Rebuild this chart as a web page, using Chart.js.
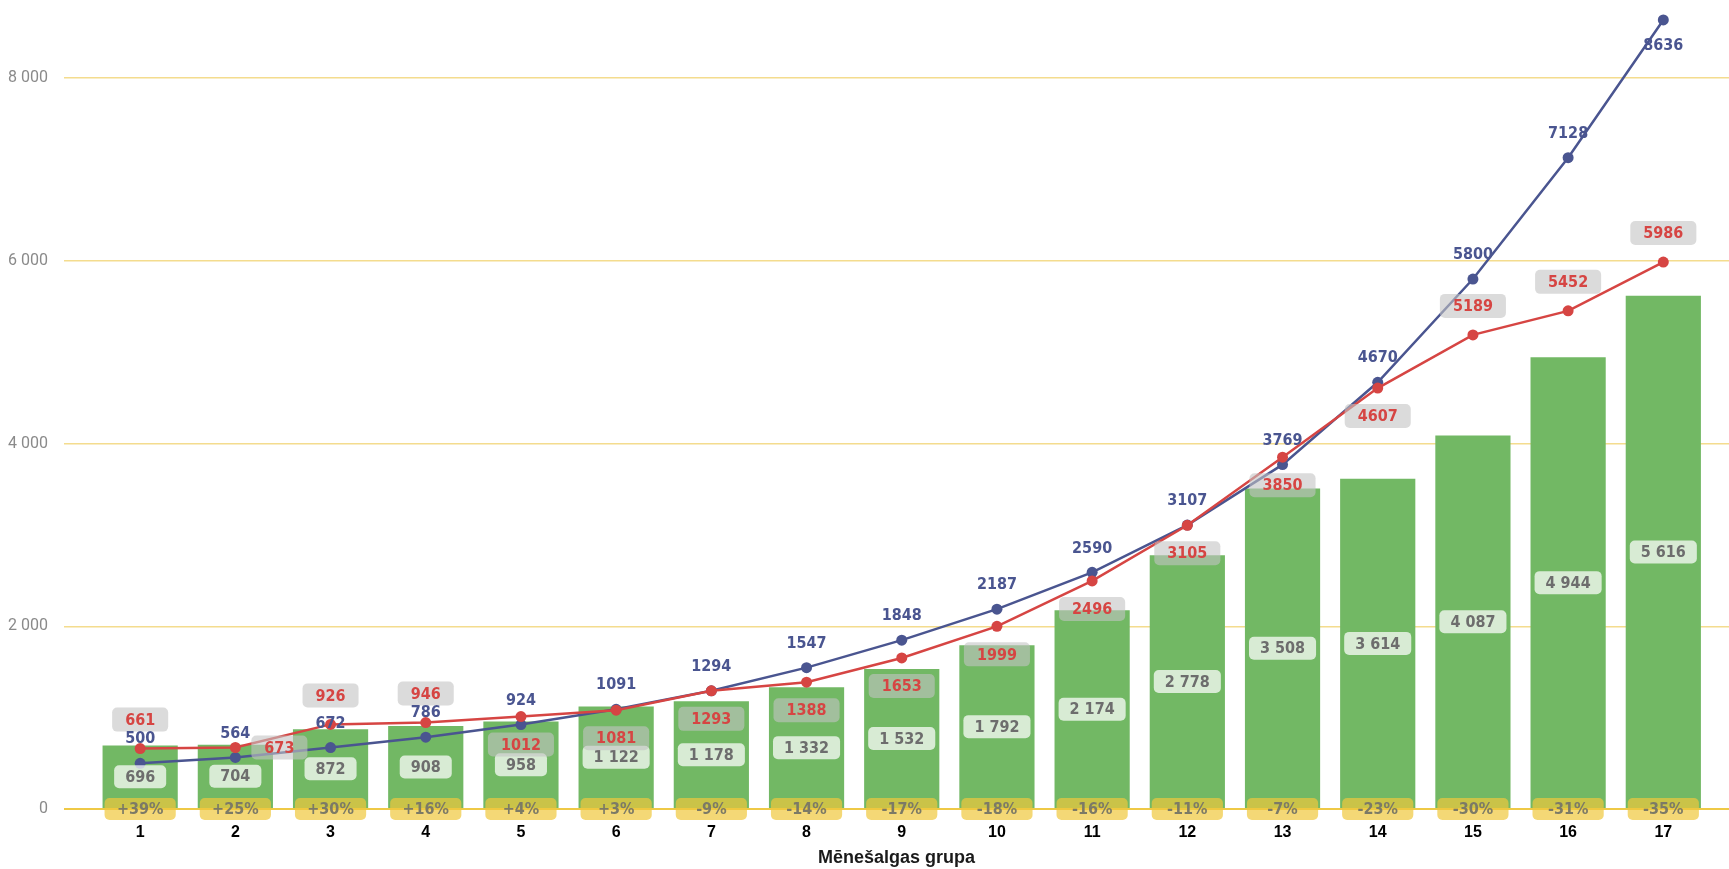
<!DOCTYPE html>
<html>
<head>
<meta charset="utf-8">
<script src="https://cdn.jsdelivr.net/npm/chart.js@4.4.0/dist/chart.umd.min.js"></script>
<style>
  html, body { margin: 0; padding: 0; background: #fff; }
</style>
</head>
<body>
<canvas id="myChart" width="1729" height="869"></canvas>
<script>
'use strict';

// Data
const groups = ['1', '2', '3', '4', '5', '6', '7', '8', '9', '10', '11', '12', '13', '14', '15', '16', '17'];
const barValues = [696, 704, 872, 908, 958, 1122, 1178, 1332, 1532, 1792, 2174, 2778, 3508, 3614, 4087, 4944, 5616];
const blueValues = [500, 564, 672, 786, 924, 1091, 1294, 1547, 1848, 2187, 2590, 3107, 3769, 4670, 5800, 7128, 8636];
const redValues = [661, 673, 926, 946, 1012, 1081, 1293, 1388, 1653, 1999, 2496, 3105, 3850, 4607, 5189, 5452, 5986];
const diffLabels = ['+39%', '+25%', '+30%', '+16%', '+4%', '+3%', '-9%', '-14%', '-17%', '-18%', '-16%', '-11%', '-7%', '-23%', '-30%', '-31%', '-35%'];
const yTicks = [0, 2000, 4000, 6000, 8000];

// where each line label sits relative to its point
const redLabelSide = ['above', 'right', 'above', 'above', 'below', 'below', 'below', 'below', 'below',
  'below', 'below', 'below', 'below', 'below', 'above', 'above', 'above'];
const blueLabelSide = ['above', 'above', 'above', 'above', 'above', 'above', 'above', 'above', 'above',
  'above', 'above', 'above', 'above', 'above', 'above', 'above', 'below'];

// Colours
const green = '#72b864';
const blue = '#4a5590';
const red = '#d64543';
const labelFont = '"DejaVu Sans Condensed", "Liberation Sans Narrow", Roboto, sans-serif';

// Helper Functions
function fmt(v){
  return String(v).replace(/\B(?=(\d{3})+(?!\d))/g, ' ');
}

function roundBox(c, cx, cy, w, h, r, fill){
  c.beginPath();
  c.roundRect(cx - w / 2, cy - h / 2, w, h, r);
  c.fillStyle = fill;
  c.fill();
}

function toPoints(values){
  return values.map((v, i) => ({x: i + 1, y: v}));
}

// draws all the data labels on top of the chart
const labelPlugin = {
  id: 'labelPlugin',
  afterDatasetsDraw(chart){
    const c = chart.ctx;
    const y0 = chart.scales.y.getPixelForValue(0);
    c.save();
    c.font = 'bold 16px ' + labelFont;
    c.textAlign = 'center';
    c.textBaseline = 'middle';

    // bar values + difference boxes
    chart.getDatasetMeta(0).data.forEach((bar, i) => {
      const cy = (bar.y + bar.base) / 2;
      const txt = fmt(barValues[i]);
      const w = c.measureText(txt).width + 22;
      roundBox(c, bar.x, cy, w, 23, 5, 'rgba(255,255,255,0.72)');
      c.fillStyle = '#6d6d6d';
      c.fillText(txt, bar.x, cy + 1);

      roundBox(c, bar.x, y0, bar.width - 4, 22, 5, 'rgba(240,200,60,0.7)');
      c.fillStyle = '#7c7a66';
      c.fillText(diffLabels[i], bar.x, y0 + 1);
    });

    // red line labels
    chart.getDatasetMeta(2).data.forEach((pt, i) => {
      const txt = String(redValues[i]);
      const w = c.measureText(txt).width + 26;
      let cx = pt.x;
      let cy = pt.y;
      if(redLabelSide[i] === 'above'){
        cy = pt.y - 29;
      } else if(redLabelSide[i] === 'below'){
        cy = pt.y + 28;
      } else {
        cx = pt.x + 16 + w / 2;
      }
      roundBox(c, cx, cy, w, 24, 5, 'rgba(195,195,195,0.6)');
      c.fillStyle = red;
      c.fillText(txt, cx, cy + 1);
    });

    // blue line labels
    chart.getDatasetMeta(1).data.forEach((pt, i) => {
      const cy = blueLabelSide[i] === 'above' ? pt.y - 24 : pt.y + 26;
      c.fillStyle = blue;
      c.fillText(String(blueValues[i]), pt.x, cy);
    });
    c.restore();
  }
};

const ctx = document.getElementById('myChart');

let chartObj = {
  type: 'bar',
  data: {
    datasets: [{
      type: 'bar',
      data: toPoints(barValues),
      backgroundColor: green,
      barPercentage: 0.79,
      categoryPercentage: 1,
      order: 3
    },
    {
      type: 'line',
      data: toPoints(blueValues),
      borderColor: blue,
      backgroundColor: blue,
      borderWidth: 2.5,
      pointRadius: 5.5,
      pointBorderWidth: 0,
      pointBackgroundColor: blue,
      order: 2
    },
    {
      type: 'line',
      data: toPoints(redValues),
      borderColor: red,
      backgroundColor: red,
      borderWidth: 2.5,
      pointRadius: 5.5,
      pointBorderWidth: 0,
      pointBackgroundColor: red,
      order: 1
    }]
  },
  options: {
    responsive: false,
    animation: false,
    devicePixelRatio: 1,
    layout: { padding: 0, autoPadding: false },
    plugins: {
      legend: { display: false },
      tooltip: { enabled: false }
    },
    scales: {
      x: {
        type: 'linear',
        bounds: 'data',
        offset: false,
        min: 0.2,
        max: 17.69,
        grid: { display: false, drawTicks: false },
        border: { display: false },
        afterBuildTicks(scale){ scale.ticks = groups.map((g, i) => ({value: i + 1})); },
        ticks: {
          padding: 14,
          color: '#000',
          font: { family: '"Liberation Sans", Arial, sans-serif', size: 16, weight: 'bold' },
          callback: (v, i) => groups[i]
        },
        title: {
          display: true,
          text: 'Mēnešalgas grupa',
          color: '#1a1a1a',
          font: { family: '"Liberation Sans", Arial, sans-serif', size: 18, weight: 'bold' },
          padding: { top: 4, bottom: 0 }
        },
        afterFit(scale){ scale.height = 60; }
      },
      y: {
        bounds: 'data',
        min: 0,
        max: 8854,
        grid: {
          drawTicks: false,
          color: (c) => c.tick && c.tick.value === 0 ? '#efc946' : '#f4dc8e',
          lineWidth: (c) => c.tick && c.tick.value === 0 ? 2 : 1.5
        },
        border: { display: false },
        afterBuildTicks(scale){ scale.ticks = yTicks.map(v => ({value: v})); },
        ticks: {
          padding: 16,
          color: '#8a8a8a',
          font: { family: 'Roboto, sans-serif', size: 16 },
          callback: (v) => fmt(v)
        },
        afterFit(scale){
          scale.width = 64;
          scale.paddingTop = 0;
        }
      }
    }
  },
  plugins: [labelPlugin]
};

new Chart(ctx, chartObj);
</script>
</body>
</html>
